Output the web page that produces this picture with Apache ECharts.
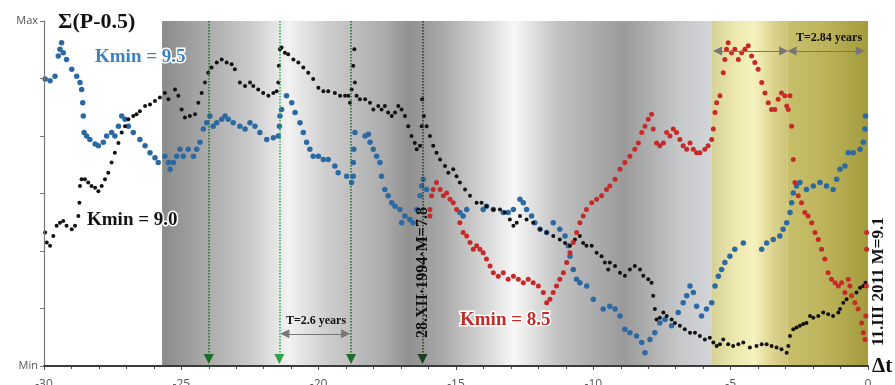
<!DOCTYPE html>
<html>
<head>
<meta charset="utf-8">
<script src="https://cdn.jsdelivr.net/npm/echarts@6/dist/echarts.min.js"></script>
<style>
  html, body { margin: 0; padding: 0; background: #fff; }
  #main { width: 895px; height: 385px; }
</style>
</head>
<body>
<div id="main"></div>
<script>
// values: x = years before 11.III.2011, y = Min(0)..Max(6)
var yLabels = { 0: 'Min', 6: 'Max' };

var blueData = [
  [-29.96,4.99],[-29.78,4.96],[-29.60,5.04],[-29.48,5.39],[-29.42,5.51],[-29.36,5.62],[-29.30,5.45],
  [-29.18,5.33],[-28.99,5.16],[-28.81,5.04],[-28.69,4.93],[-28.63,4.81],[-28.59,4.58],[-28.57,4.35],
  [-28.54,4.06],[-28.45,4.00],[-28.33,3.94],[-28.14,3.86],[-28.02,3.83],[-27.84,3.89],[-27.72,4.00],
  [-27.54,4.06],[-27.42,4.00],[-27.29,4.17],[-27.17,4.35],[-27.05,4.29],[-26.93,4.17],[-26.75,4.06],
  [-26.51,3.94],[-26.32,3.83],[-26.14,3.71],[-25.96,3.62],[-25.84,3.54],[-25.60,3.65],[-25.47,3.54],
  [-25.41,3.42],[-25.29,3.54],[-25.17,3.65],[-25.05,3.77],[-24.93,3.65],[-24.75,3.77],[-24.56,3.65],
  [-24.44,3.77],[-24.32,3.89],[-24.20,4.12],[-24.08,4.23],[-23.96,4.35],[-23.84,4.17],[-23.71,4.23],
  [-23.53,4.29],[-23.41,4.35],[-23.29,4.29],[-23.11,4.23],[-22.87,4.17],[-22.68,4.12],[-22.50,4.23],
  [-22.32,4.17],[-22.14,4.06],[-21.89,3.94],[-21.65,3.97],[-21.47,4.00],[-21.43,4.17],[-21.41,4.35],
  [-21.35,4.46],[-21.17,4.70],[-20.98,4.58],[-20.86,4.41],[-20.68,4.23],[-20.56,4.06],[-20.44,3.89],
  [-20.32,3.77],[-20.20,3.65],[-20.01,3.65],[-19.83,3.59],[-19.65,3.59],[-19.41,3.48],[-19.29,3.36],
  [-18.98,3.30],[-18.80,3.19],[-18.74,3.30],[-18.74,3.54],[-18.72,3.77],[-18.68,4.06],[-18.31,4.00],
  [-18.19,4.03],[-18.13,3.89],[-18.01,3.77],[-17.89,3.65],[-17.77,3.54],[-17.71,3.30],[-17.59,3.07],
  [-17.47,2.96],[-17.34,2.84],[-17.22,2.78],[-17.04,2.72],[-16.98,2.49],[-16.86,2.61],[-16.68,2.55],
  [-16.56,2.49],[-16.43,2.72],[-16.31,2.96],[-16.25,3.13],[-16.19,3.25],[-16.07,3.07],[-14.86,2.67],
  [-14.74,2.61],[-14.61,2.72],[-14.01,2.72],[-13.89,2.78],[-13.64,2.72],[-13.28,2.67],[-13.10,2.67],
  [-12.91,2.72],[-12.67,2.90],[-12.55,2.84],[-12.43,2.72],[-12.25,2.61],[-12.13,2.49],[-11.94,2.38],
  [-11.70,2.32],[-11.46,2.49],[-11.22,2.38],[-11.03,2.26],[-10.91,2.09],[-10.85,1.91],[-10.73,1.68],
  [-10.61,1.51],[-10.49,1.45],[-10.24,1.39],[-10.00,1.16],[-9.64,0.99],[-9.40,1.04],[-9.21,0.99],
  [-9.03,0.87],[-8.85,0.64],[-8.67,0.58],[-8.43,0.52],[-8.24,0.41],[-8.12,0.23],[-7.94,0.46],
  [-7.76,0.58],[-7.58,0.75],[-7.39,0.81],[-7.15,0.70],[-6.91,0.93],[-6.73,1.10],[-6.60,1.22],
  [-6.48,1.39],[-6.36,1.28],[-6.24,1.04],[-6.06,0.87],[-5.88,0.99],[-5.69,1.10],[-5.57,1.39],
  [-5.45,1.56],[-5.33,1.68],[-5.21,1.80],[-5.03,1.91],[-4.85,2.03],[-4.54,2.14],[-3.87,2.03],
  [-3.69,2.14],[-3.45,2.20],[-3.21,2.26],[-3.09,2.38],[-2.96,2.49],[-2.84,2.67],[-2.78,2.84],
  [-2.72,3.01],[-2.60,3.13],[-2.48,3.19],[-2.24,3.07],[-1.99,3.13],[-1.75,3.19],[-1.51,3.13],
  [-1.27,3.07],[-1.14,3.25],[-1.02,3.42],[-0.84,3.48],[-0.72,3.71],[-0.54,3.71],[-0.29,3.77],
  [-0.17,3.89],[-0.11,4.12],[-0.09,4.35]
];

var blackData = [
  [-29.96,2.32],[-29.90,2.15],[-29.78,2.09],[-29.66,2.26],[-29.54,2.44],[-29.42,2.49],[-29.30,2.52],
  [-29.18,2.44],[-28.99,2.38],[-28.87,2.44],[-28.75,2.61],[-28.71,2.84],[-28.69,3.13],[-28.63,3.25],
  [-28.51,3.25],[-28.39,3.19],[-28.27,3.13],[-28.14,3.10],[-28.02,3.04],[-27.90,3.13],[-27.78,3.25],
  [-27.66,3.36],[-27.54,3.54],[-27.42,3.71],[-27.29,3.88],[-27.17,4.06],[-27.05,4.17],[-26.93,4.29],
  [-26.75,4.35],[-26.63,4.38],[-26.51,4.43],[-26.32,4.52],[-26.14,4.55],[-25.96,4.61],[-25.78,4.67],
  [-25.60,4.75],[-25.47,4.64],[-25.23,4.81],[-25.11,4.70],[-24.99,4.46],[-24.87,4.32],[-24.69,4.35],
  [-24.50,4.38],[-24.38,4.58],[-24.26,4.75],[-24.14,4.93],[-24.02,5.10],[-23.90,5.19],[-23.71,5.28],
  [-23.53,5.33],[-23.35,5.28],[-23.17,5.25],[-23.05,5.16],[-22.87,4.93],[-22.68,4.87],[-22.50,4.93],
  [-22.38,4.87],[-22.20,4.81],[-22.02,4.75],[-21.83,4.70],[-21.65,4.75],[-21.53,4.78],[-21.47,4.93],
  [-21.45,5.22],[-21.41,5.51],[-21.35,5.54],[-21.23,5.45],[-21.11,5.42],[-20.92,5.33],[-20.74,5.28],
  [-20.56,5.19],[-20.38,5.10],[-20.20,4.99],[-20.01,4.84],[-19.83,4.78],[-19.65,4.78],[-19.41,4.75],
  [-19.22,4.70],[-19.04,4.70],[-18.92,4.70],[-18.86,4.58],[-18.80,4.81],[-18.74,5.22],[-18.70,5.51],
  [-18.68,4.93],[-18.62,4.70],[-18.50,4.64],[-18.31,4.64],[-18.13,4.58],[-18.01,4.46],[-17.83,4.52],
  [-17.71,4.46],[-17.59,4.52],[-17.47,4.41],[-17.34,4.35],[-17.22,4.41],[-17.10,4.52],[-16.98,4.46],
  [-16.86,4.35],[-16.74,4.17],[-16.62,4.00],[-16.50,3.88],[-16.43,3.77],[-16.31,3.83],[-16.25,4.17],
  [-16.23,4.64],[-16.17,4.35],[-16.07,4.17],[-15.95,4.00],[-15.83,3.83],[-15.71,3.71],[-15.58,3.59],
  [-15.40,3.48],[-15.28,3.36],[-15.10,3.42],[-14.98,3.30],[-14.86,3.19],[-14.67,3.07],[-14.49,2.96],
  [-14.25,2.84],[-14.07,2.84],[-13.89,2.78],[-13.64,2.72],[-13.40,2.72],[-13.22,2.67],[-13.04,2.55],
  [-12.91,2.44],[-12.79,2.49],[-12.67,2.61],[-12.43,2.55],[-12.19,2.49],[-11.94,2.38],[-11.70,2.32],
  [-11.46,2.26],[-11.22,2.20],[-11.03,2.14],[-10.85,2.09],[-10.67,2.20],[-10.49,2.26],[-10.37,2.14],
  [-10.25,2.09],[-10.06,2.09],[-9.88,1.97],[-9.70,1.91],[-9.58,1.80],[-9.46,1.68],[-9.40,1.80],
  [-9.21,1.74],[-9.03,1.62],[-8.85,1.57],[-8.67,1.68],[-8.49,1.74],[-8.30,1.68],[-8.18,1.57],
  [-8.00,1.51],[-7.88,1.45],[-7.82,1.22],[-7.76,0.99],[-7.70,0.81],[-7.58,0.84],[-7.45,0.93],
  [-7.33,0.87],[-7.15,0.81],[-7.03,0.75],[-6.85,0.70],[-6.67,0.64],[-6.48,0.58],[-6.30,0.58],
  [-6.12,0.52],[-5.94,0.46],[-5.76,0.49],[-5.63,0.41],[-5.51,0.35],[-5.39,0.38],[-5.27,0.46],
  [-5.09,0.38],[-4.91,0.35],[-4.72,0.38],[-4.54,0.41],[-4.30,0.32],[-4.06,0.35],[-3.87,0.38],
  [-3.69,0.38],[-3.51,0.35],[-3.33,0.32],[-3.15,0.29],[-2.96,0.23],[-2.90,0.35],[-2.84,0.52],
  [-2.72,0.64],[-2.60,0.67],[-2.48,0.70],[-2.36,0.73],[-2.24,0.75],[-2.11,0.87],[-1.99,0.84],
  [-1.81,0.87],[-1.63,0.93],[-1.45,0.90],[-1.27,0.87],[-1.08,0.93],[-1.02,0.99],[-0.90,1.10],
  [-0.78,1.16],[-0.60,1.22],[-0.42,1.28],[-0.29,1.36],[-0.17,1.39],[-0.09,1.45]
];

var redData = [
  [-15.95,2.61],[-15.95,2.72],[-15.89,2.96],[-15.83,3.07],[-15.71,3.19],[-15.58,3.07],[-15.46,2.96],
  [-15.34,3.01],[-15.22,2.90],[-15.10,2.84],[-14.98,2.72],[-14.86,2.49],[-14.74,2.32],[-14.61,2.26],
  [-14.49,2.15],[-14.37,2.03],[-14.25,2.09],[-14.13,2.03],[-14.01,1.97],[-13.89,1.86],[-13.76,1.74],
  [-13.64,1.62],[-13.46,1.56],[-13.28,1.62],[-13.10,1.51],[-12.91,1.56],[-12.73,1.51],[-12.55,1.45],
  [-12.37,1.51],[-12.19,1.45],[-12.00,1.39],[-11.82,1.28],[-11.70,1.10],[-11.58,1.16],[-11.46,1.28],
  [-11.34,1.39],[-11.22,1.51],[-11.09,1.62],[-10.97,1.80],[-10.85,1.97],[-10.73,2.15],[-10.61,2.32],
  [-10.49,2.49],[-10.37,2.61],[-10.25,2.72],[-10.06,2.84],[-9.88,2.90],[-9.70,2.96],[-9.52,3.07],
  [-9.40,3.13],[-9.21,3.25],[-9.03,3.42],[-8.85,3.54],[-8.67,3.65],[-8.49,3.77],[-8.36,3.88],
  [-8.24,4.06],[-8.12,4.17],[-8.00,4.29],[-7.88,4.38],[-7.82,4.12],[-7.70,3.88],[-7.58,3.83],
  [-7.45,3.88],[-7.33,4.06],[-7.21,4.00],[-7.09,4.12],[-6.97,4.06],[-6.85,3.94],[-6.73,3.83],
  [-6.60,3.77],[-6.48,3.88],[-6.36,3.77],[-6.24,3.71],[-6.12,3.71],[-5.94,3.77],[-5.82,3.83],
  [-5.69,3.94],[-5.63,4.12],[-5.57,4.41],[-5.51,4.58],[-5.39,4.70],[-5.27,5.10],[-5.21,5.33],
  [-5.15,5.51],[-5.09,5.62],[-4.97,5.45],[-4.85,5.51],[-4.72,5.33],[-4.60,5.45],[-4.48,5.51],
  [-4.36,5.57],[-4.24,5.39],[-4.12,5.28],[-4.00,5.16],[-3.87,4.93],[-3.75,4.75],[-3.63,4.58],
  [-3.51,4.46],[-3.39,4.46],[-3.27,4.64],[-3.15,4.75],[-3.03,4.70],[-2.96,4.52],[-2.90,4.46],
  [-2.84,4.70],[-2.78,4.17],[-2.72,3.59],[-2.66,3.19],[-2.54,2.96],[-2.42,2.84],[-2.30,2.67],
  [-2.18,2.61],[-2.05,2.49],[-1.93,2.32],[-1.81,2.20],[-1.69,2.03],[-1.57,1.86],[-1.45,1.62],
  [-1.33,1.51],[-1.20,1.45],[-1.08,1.39],[-0.96,1.45],[-0.84,1.28],[-0.72,1.51],[-0.66,1.39],
  [-0.60,1.22],[-0.48,1.10],[-0.36,0.99],[-0.23,0.75],[-0.17,0.58],[-0.11,0.46],[-0.08,0.87],
  [-0.06,1.39],[-0.05,2.03],[-0.05,2.32]
];

// earthquake markers (x positions) and shaded periods
var quakeX = [-24.0, -21.43, -18.82, -16.22];
var grayBand = [-25.7, -5.68];
var yellowBand = [-5.68, -2.92];
var oliveBand = [-2.92, 0];
var periodA = [-21.43, -18.82];   // T=2.6 years
var periodB = [-5.68, -2.92, -0.08]; // T=2.84 years

var myChart = echarts.init(document.getElementById('main'));

var quakeColors = ['#1d6b27', '#2ba44a', '#1d6b27', '#1f3f22'];
var quakeLines = quakeX.map(function (x, i) {
  return [
    { coord: [x, 6], lineStyle: { color: quakeColors[i] }, itemStyle: { color: quakeColors[i] } },
    { coord: [x, 0.12] }
  ];
});

function lin(stops) {
  return { type: 'linear', x: 0, y: 0, x2: 1, y2: 0, colorStops: stops };
}

var option = {
  animation: false,
  grid: { left: 44, right: 27, top: 21, bottom: 19, outerBoundsMode: 'none', containLabel: false },
  xAxis: {
    type: 'value', z: 6,
    min: -30, max: 0, interval: 5,
    axisLine: { onZero: false, lineStyle: { color: '#3a3a3a', width: 2 } },
    axisTick: { length: 4, lineStyle: { color: '#444' } },
    minorTick: { show: true, splitNumber: 5, length: 3, lineStyle: { color: '#444' } },
    splitLine: { show: false },
    axisLabel: { color: '#555', fontSize: 12, margin: 13, fontFamily: 'Open Sans' }
  },
  yAxis: {
    type: 'value', z: 6,
    min: 0, max: 6, interval: 1,
    axisLine: { show: true, onZero: false, lineStyle: { color: '#777', width: 1.2 } },
    axisTick: { show: true, length: 4, lineStyle: { color: '#777' } },
    splitLine: { show: false },
    axisLabel: {
      color: '#555', fontSize: 11, margin: 6, fontFamily: 'Open Sans',
      formatter: function (v) { return yLabels[v] || ''; }
    }
  },
  series: [
    {
      name: 'bands', type: 'scatter', data: [], z: 1, silent: true,
      markArea: {
        silent: true,
        data: [
          [{ coord: [grayBand[0], 6], itemStyle: { opacity: 1, color: lin([
              { offset: 0, color: '#8a8a8a' }, { offset: 0.07, color: '#a6a6a6' },
              { offset: 0.16, color: '#cacaca' }, { offset: 0.23, color: '#f2f2f2' },
              { offset: 0.30, color: '#cdcdcd' }, { offset: 0.40, color: '#adadad' },
              { offset: 0.45, color: '#909090' }, { offset: 0.51, color: '#a9a9a9' },
              { offset: 0.58, color: '#d2d2d2' }, { offset: 0.64, color: '#f7f7f7' },
              { offset: 0.72, color: '#c2c2c2' }, { offset: 0.84, color: '#9a9a9a' },
              { offset: 0.94, color: '#c6c7c9' }, { offset: 1, color: '#d4d5d8' }]) } },
           { coord: [grayBand[1], 0] }],
          [{ coord: [yellowBand[0], 6], itemStyle: { opacity: 1, color: lin([
              { offset: 0, color: '#d6d196' }, { offset: 0.3, color: '#ece7ac' },
              { offset: 0.55, color: '#f6f2c0' }, { offset: 0.8, color: '#dcd48e' },
              { offset: 1, color: '#cdc47a' }]) } },
           { coord: [yellowBand[1], 0] }],
          [{ coord: [oliveBand[0], 6], itemStyle: { opacity: 1, color: lin([
              { offset: 0, color: '#c8bf6c' }, { offset: 0.5, color: '#bbb25a' },
              { offset: 1, color: '#a39b3c' }]) } },
           { coord: [oliveBand[1], 0] }]
        ]
      }
    },
    {
      name: 'Kmin = 9.5', type: 'scatter', data: blueData, z: 3,
      symbolSize: 5.5, itemStyle: { color: '#2c69a3', opacity: 1 }
    },
    {
      name: 'Kmin = 9.0', type: 'scatter', data: blackData, z: 3,
      symbolSize: 4, itemStyle: { color: '#111', opacity: 1 }
    },
    {
      name: 'Kmin = 8.5', type: 'scatter', data: redData, z: 3,
      symbolSize: 5, itemStyle: { color: '#c62a28', opacity: 1 }
    },
    {
      name: 'marks', type: 'scatter', data: [], z: 4, silent: true,
      markLine: {
        silent: true,
        symbol: ['none', 'triangle'],
        symbolSize: 10,
        label: { show: false },
        lineStyle: { type: 'dotted', width: 1.5, opacity: 1 },
        data: quakeLines
      }
    },
    {
      name: 'periods', type: 'scatter', data: [], z: 4, silent: true,
      markLine: {
        silent: true,
        symbol: ['triangle', 'triangle'],
        symbolSize: 9,
        label: { show: false },
        lineStyle: { type: 'solid', width: 1, color: '#777', opacity: 1 },
        itemStyle: { color: '#111' },
        data: [
          [{ coord: [periodA[0] + 0.2, 0.56] }, { coord: [periodA[1] - 0.2, 0.56] }],
          [{ coord: [periodB[0] + 0.2, 5.48] }, { coord: [periodB[1] - 0.15, 5.48] }],
          [{ coord: [periodB[1] + 0.15, 5.48] }, { coord: [periodB[2] - 0.2, 5.48] }]
        ]
      }
    }
  ],
  graphic: [
    { type: 'text', z: 10, x: 58, y: 22, style: { text: 'Σ(P-0.5)', font: 'bold 22px "Liberation Serif"', fill: '#111', verticalAlign: 'middle' } },
    { type: 'text', z: 10, x: 95, y: 57, style: { text: 'Kmin = 9.5', font: 'bold 19px "Liberation Serif"', fill: '#3d82bb', stroke: '#fff', lineWidth: 3, verticalAlign: 'middle' } },
    { type: 'text', z: 10, x: 87, y: 220, style: { text: 'Kmin = 9.0', font: 'bold 19px "Liberation Serif"', fill: '#141414', stroke: '#fff', lineWidth: 3, verticalAlign: 'middle' } },
    { type: 'text', z: 10, x: 460, y: 320, style: { text: 'Kmin = 8.5', font: 'bold 19px "Liberation Serif"', fill: '#c22a28', stroke: '#fff', lineWidth: 3, verticalAlign: 'middle' } },
    { type: 'text', z: 10, x: 316, y: 321, style: { text: 'T=2.6 years', font: 'bold 12px "Liberation Serif"', fill: '#111', align: 'center', verticalAlign: 'middle' } },
    { type: 'text', z: 10, x: 829, y: 38, style: { text: 'T=2.84 years', font: 'bold 12px "Liberation Serif"', fill: '#111', align: 'center', verticalAlign: 'middle' } },
    { type: 'text', z: 10, x: 423, y: 338, rotation: Math.PI / 2, style: { text: '28.XII·1994·M=7.8', font: 'bold 16px "Liberation Serif"', fill: '#111', align: 'left', verticalAlign: 'middle' } },
    { type: 'text', z: 10, x: 879, y: 346, rotation: Math.PI / 2, style: { text: '11.III 2011 M=9.1', font: 'bold 17px "Liberation Serif"', fill: '#111', align: 'left', verticalAlign: 'middle' } },
    { type: 'text', z: 10, x: 872, y: 367, style: { text: 'Δt', font: 'bold 21px "Liberation Serif"', fill: '#111', verticalAlign: 'middle' } }
  ]
};

myChart.setOption(option);
</script>
</body>
</html>
